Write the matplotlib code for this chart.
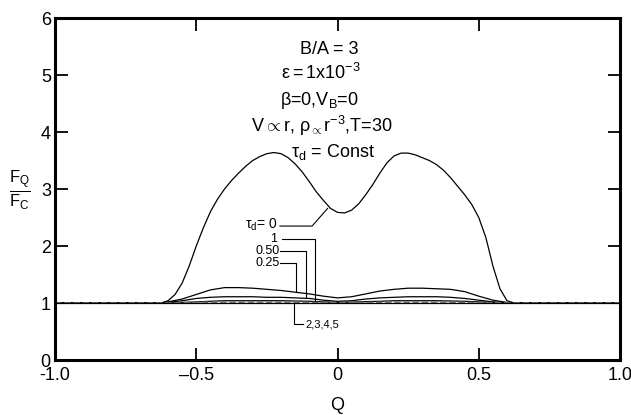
import numpy as np
import matplotlib.pyplot as plt

plt.rcParams['font.family'] = ['Liberation Sans', 'DejaVu Sans']
plt.rcParams['mathtext.fontset'] = 'custom'
plt.rcParams['mathtext.rm'] = 'Liberation Sans'
plt.rcParams['mathtext.it'] = 'Liberation Sans'

# tau_d = 0 on a finer Q grid (steep flanks)
q0 = [-1.0, -0.625, -0.6, -0.575, -0.55, -0.525, -0.5, -0.475, -0.45, -0.425,
      -0.4, -0.375, -0.35, -0.325, -0.3, -0.275, -0.25, -0.225, -0.2, -0.175,
      -0.15, -0.125, -0.1, -0.075, -0.05, -0.025, 0.0, 0.025, 0.05, 0.075,
      0.1, 0.125, 0.15, 0.175, 0.2, 0.225, 0.25, 0.275, 0.3, 0.325,
      0.35, 0.375, 0.4, 0.425, 0.45, 0.475, 0.5, 0.525, 0.55, 0.575,
      0.6, 0.625, 1.0]
tau_0 = [1.0, 1.0, 1.04, 1.15, 1.35, 1.65, 2.0, 2.32, 2.6, 2.82,
         3.0, 3.15, 3.28, 3.4, 3.5, 3.57, 3.62, 3.64, 3.62, 3.55,
         3.44, 3.3, 3.13, 2.95, 2.8, 2.66, 2.59, 2.58, 2.63, 2.74,
         2.9, 3.08, 3.28, 3.46, 3.58, 3.63, 3.63, 3.6, 3.55, 3.5,
         3.43, 3.33, 3.2, 3.05, 2.9, 2.73, 2.5, 2.15, 1.65, 1.25,
         1.04, 1.0, 1.0]

# Q grid for the lower curves
q = [-1.0, -0.62, -0.6, -0.55, -0.5, -0.45, -0.4, -0.35, -0.3, -0.25, -0.2,
     -0.15, -0.1, -0.05, 0.0, 0.05, 0.1, 0.15, 0.2, 0.25, 0.3, 0.35, 0.4,
     0.45, 0.5, 0.55, 0.6, 0.62, 1.0]
tau_025 = [1.0, 1.0, 1.02, 1.07, 1.15, 1.23, 1.27, 1.27, 1.26, 1.24, 1.22,
           1.19, 1.16, 1.12, 1.09, 1.11, 1.16, 1.21, 1.24, 1.26, 1.26, 1.25, 1.24,
           1.2, 1.12, 1.05, 1.01, 1.0, 1.0]
tau_050 = [1.0, 1.0, 1.01, 1.04, 1.08, 1.1, 1.11, 1.11, 1.11, 1.1, 1.1,
           1.09, 1.08, 1.05, 1.03, 1.04, 1.07, 1.09, 1.1, 1.11, 1.11, 1.11, 1.1,
           1.08, 1.05, 1.02, 1.0, 1.0, 1.0]
tau_1 = [1.0, 1.0, 1.0, 1.01, 1.02, 1.03, 1.04, 1.04, 1.04, 1.04, 1.04,
         1.035, 1.03, 1.02, 1.01, 1.015, 1.025, 1.03, 1.04, 1.04, 1.04, 1.04, 1.035,
         1.03, 1.02, 1.01, 1.0, 1.0, 1.0]
tau_2345 = [1.0, 1.0, 1.0, 1.005, 1.01, 1.012, 1.014, 1.014, 1.014, 1.014, 1.014,
            1.012, 1.01, 1.007, 1.005, 1.006, 1.009, 1.011, 1.013, 1.014, 1.014, 1.014, 1.012,
            1.01, 1.007, 1.003, 1.0, 1.0, 1.0]

fig = plt.figure(figsize=(6.31, 4.15), dpi=100)
ax = fig.add_axes([0.0872, 0.1325, 0.8954, 0.8241])

ax.plot(q0, tau_0, color='black', lw=0.9)
for ys in (tau_025, tau_050, tau_1):
    ax.plot(q, ys, color='black', lw=0.9)
ax.plot(q, tau_2345, color='#777777', lw=1.2, ls=(0, (4, 1.5)))
ax.axhline(1.0, color='black', lw=0.9)

ax.set_xlim(-1.0, 1.0)
ax.set_ylim(0, 6)
ax.set_xticks([-1.0, -0.5, 0, 0.5, 1.0])
ax.set_xticklabels(['-1.0', '\u20130.5', '0', '0.5', '1.0'])
ax.set_yticks([0, 1, 2, 3, 4, 5, 6])
ax.tick_params(direction='in', length=9, width=1.3, top=True, right=True,
               labelsize=13)
ax.tick_params(axis='x', pad=5)
ax.tick_params(axis='y', pad=3)
for s in ax.spines.values():
    s.set_linewidth(2.2)

# parameter block
cx = -0.03
ax.text(cx, 5.44, 'B/A = 3', ha='center', va='center', fontsize=13)
ax.text(cx - 0.03, 5.03, r'$\epsilon = 1\mathrm{x}10^{-3}$', ha='center', va='center', fontsize=13)
ax.text(cx - 0.035, 4.56, r'$\beta$=0,V$_{\mathrm{B}}$=0', ha='center', va='center', fontsize=13)
ax.text(cx - 0.025, 4.1, r'V$\propto$r, $\rho_{\propto}$r$^{-3}$,T=30', ha='center', va='center', fontsize=13)
ax.text(cx + 0.015, 3.65, r'$\tau_{\mathrm{d}}$ = Const', ha='center', va='center', fontsize=13)

# curve labels with leader lines
ax.text(-0.214, 2.37, r'$\tau_{\mathrm{d}}$= 0', ha='right', va='center', fontsize=10)
ax.plot([-0.204, -0.09, -0.035], [2.35, 2.35, 2.66], color='black', lw=0.8)
ax.text(-0.214, 2.13, '1', ha='right', va='center', fontsize=9)
ax.plot([-0.196, -0.08, -0.08], [2.13, 2.13, 1.03], color='black', lw=0.8)
ax.text(-0.204, 1.91, '0.50', ha='right', va='center', fontsize=9)
ax.plot([-0.204, -0.111, -0.111], [1.91, 1.91, 1.08], color='black', lw=0.8)
ax.text(-0.204, 1.70, '0.25', ha='right', va='center', fontsize=9)
ax.plot([-0.204, -0.147, -0.147], [1.70, 1.70, 1.19], color='black', lw=0.8)
ax.plot([-0.154, -0.154, -0.122], [1.0, 0.63, 0.63], color='black', lw=0.8)
ax.text(-0.115, 0.62, '2,3,4,5', ha='left', va='center', fontsize=8)

fig.text(337 / 631, 1 - 405 / 415, 'Q', ha='center', va='center', fontsize=13)
fig.text(20 / 631, 1 - 190 / 415, r'$\frac{F_Q}{F_C}$', ha='center', va='center', fontsize=17)

fig.savefig('out.png', dpi=100)
